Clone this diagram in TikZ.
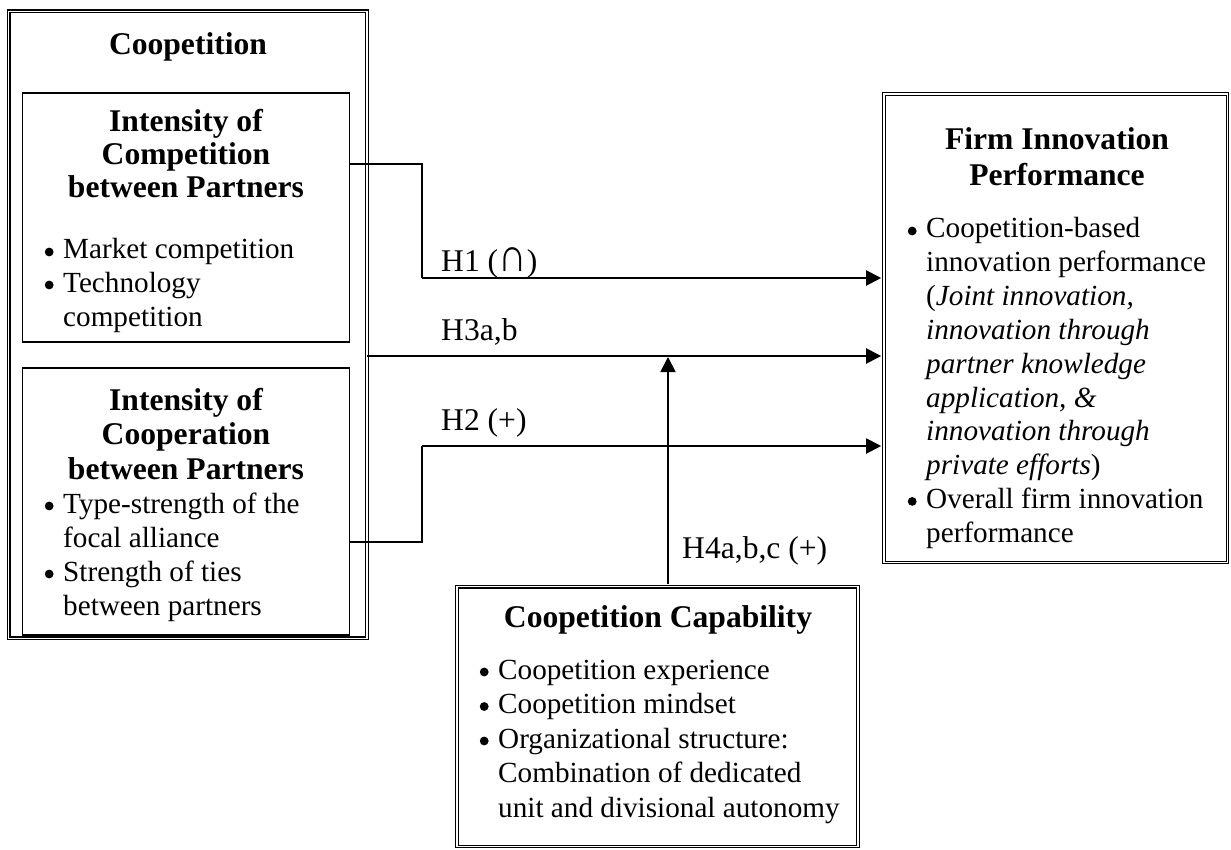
\documentclass[tikz,border=0pt]{standalone}
\usepackage{fontspec}
\usepackage{graphicx}
\setmainfont{Liberation Serif}
\usetikzlibrary{arrows.meta, calc}

\newcommand\bodyfont{\fontsize{29.2}{33.6}\selectfont}
\newcommand\headfont{\fontsize{31.6}{36}\selectfont\bfseries}
\newcommand\labfont{\fontsize{31.6}{36}\selectfont}
\newcommand\capsign{\scalebox{1.25}[1.5]{∩}}

\tikzset{
  dbox/.style={draw, double, line width=1.1pt, double distance=1.5pt,
    inner sep=0pt, outer sep=0pt, anchor=north west},
  sbox/.style={draw, line width=1.8pt, inner sep=0pt, outer sep=0pt, anchor=north west},
  head/.style={font=\headfont, anchor=base, inner sep=0pt},
  body/.style={font=\bodyfont, anchor=base west, inner sep=0pt},
  hlab/.style={font=\labfont, anchor=base west, inner sep=0pt},
  link/.style={line width=1.4pt},
  hyp/.style={line width=2pt, -{Triangle[length=15pt,width=15pt]}},
}

\begin{document}
\begin{tikzpicture}[x=1pt, y=-1pt]
  \useasboundingbox[fill=white] (0,0) rectangle (1231,850);

  % frames
  \node[dbox, minimum width=358.3pt, minimum height=627pt] (coop) at (8.7,11.3) {};
  \node[sbox, minimum width=327pt, minimum height=249pt] (comp) at (22.5,93) {};
  \node[sbox, minimum width=327pt, minimum height=267pt] (corp) at (22.5,368) {};
  \node[dbox, minimum width=343.5pt, minimum height=468.5pt] (firm) at (884,94) {};
  \node[dbox, minimum width=401pt, minimum height=259.8pt] (capab) at (457,586.7) {};

  % Coopetition
  \node[head] (coopH) at (188,55) {Coopetition};

  % competition between partners
  \foreach \t/\y [count=\i] in {{Intensity of}/132, {Competition}/165, {between Partners}/198}
    \node[head] (compH\i) at (186,\y) {\t};
  \node[body] (compB1) at (63,259) {Market competition};
  \node[body] (compB2) at (63,292) {Technology};
  \node[body] (compB3) at (63,326) {competition};

  % cooperation between partners
  \foreach \t/\y [count=\i] in {{Intensity of}/410, {Cooperation}/444, {between Partners}/479}
    \node[head] (corpH\i) at (186,\y) {\t};
  \node[body] (corpB1) at (63,513) {Type-strength of the};
  \node[body] (corpB2) at (63,547) {focal alliance};
  \node[body] (corpB3) at (63,581) {Strength of ties};
  \node[body] (corpB4) at (63,615) {between partners};

  % firm innovation performance
  \foreach \t/\y [count=\i] in {{Firm Innovation}/150, {Performance}/186}
    \node[head] (firmH\i) at (1057,\y) {\t};
  \node[body] (firmB1) at (926,238) {Coopetition-based};
  \foreach \t/\y [count=\i] in {
      {innovation performance}/271.8,
      {(\textit{Joint innovation,}}/305.6,
      {\textit{innovation through}}/339.4,
      {\textit{partner knowledge}}/373.2,
      {\textit{application, \&}}/407,
      {\textit{innovation through}}/440.8,
      {\textit{private efforts})}/474.6}
    \node[body] (firmL\i) at (926,\y) {\t};
  \node[body] (firmB2) at (926,508.4) {Overall firm innovation};
  \node[body] (firmL8) at (926,542.2) {performance};

  % coopetition capability
  \node[head] (capH) at (658,627) {Coopetition Capability};
  \node[body] (capB1) at (498,679) {Coopetition experience};
  \node[body] (capB2) at (498,713.5) {Coopetition mindset};
  \node[body] (capB3) at (498,748) {Organizational structure:};
  \node[body] (capL1) at (498,782.5) {Combination of dedicated};
  \node[body] (capL2) at (498,817) {unit and divisional autonomy};

  % list bullets in front of each item
  \foreach \n in {compB1, compB2, corpB1, corpB3, firmB1, firmB2, capB1, capB2, capB3}
    \fill ($(\n.base west)+(-13.8,-7)$) circle (4.4pt);

  % connectors
  \coordinate (h1a) at (422,164);
  \coordinate (h1b) at (422,278);
  \coordinate (h3)  at (0,356);
  \coordinate (h2a) at (422,542);
  \coordinate (h2b) at (422,446);
  \coordinate (h4)  at (668,357);

  \draw[link] (comp.east |- h1a) -- (h1a) -- (h1b);
  \draw[hyp] (h1b) -- ([xshift=-2.8pt]firm.west |- h1b);
  \draw[hyp] (coop.east |- h3) -- ([xshift=-2.8pt]firm.west |- h3);
  \draw[link] (corp.east |- h2a) -- (h2a) -- (h2b);
  \draw[hyp] (h2b) -- ([xshift=-2.8pt]firm.west |- h2b);
  \draw[hyp, line width=1.8pt] ([yshift=2.5pt]capab.north -| h4) -- (h4);

  % hypothesis labels
  \node[hlab] (lH1) at (441,272) {H1 (\capsign)};
  \node[hlab] (lH3) at (441,340) {H3a,b};
  \node[hlab] (lH2) at (441,430) {H2 (+)};
  \node[hlab] (lH4) at (682,558) {H4a,b,c (+)};
\end{tikzpicture}
\end{document}
